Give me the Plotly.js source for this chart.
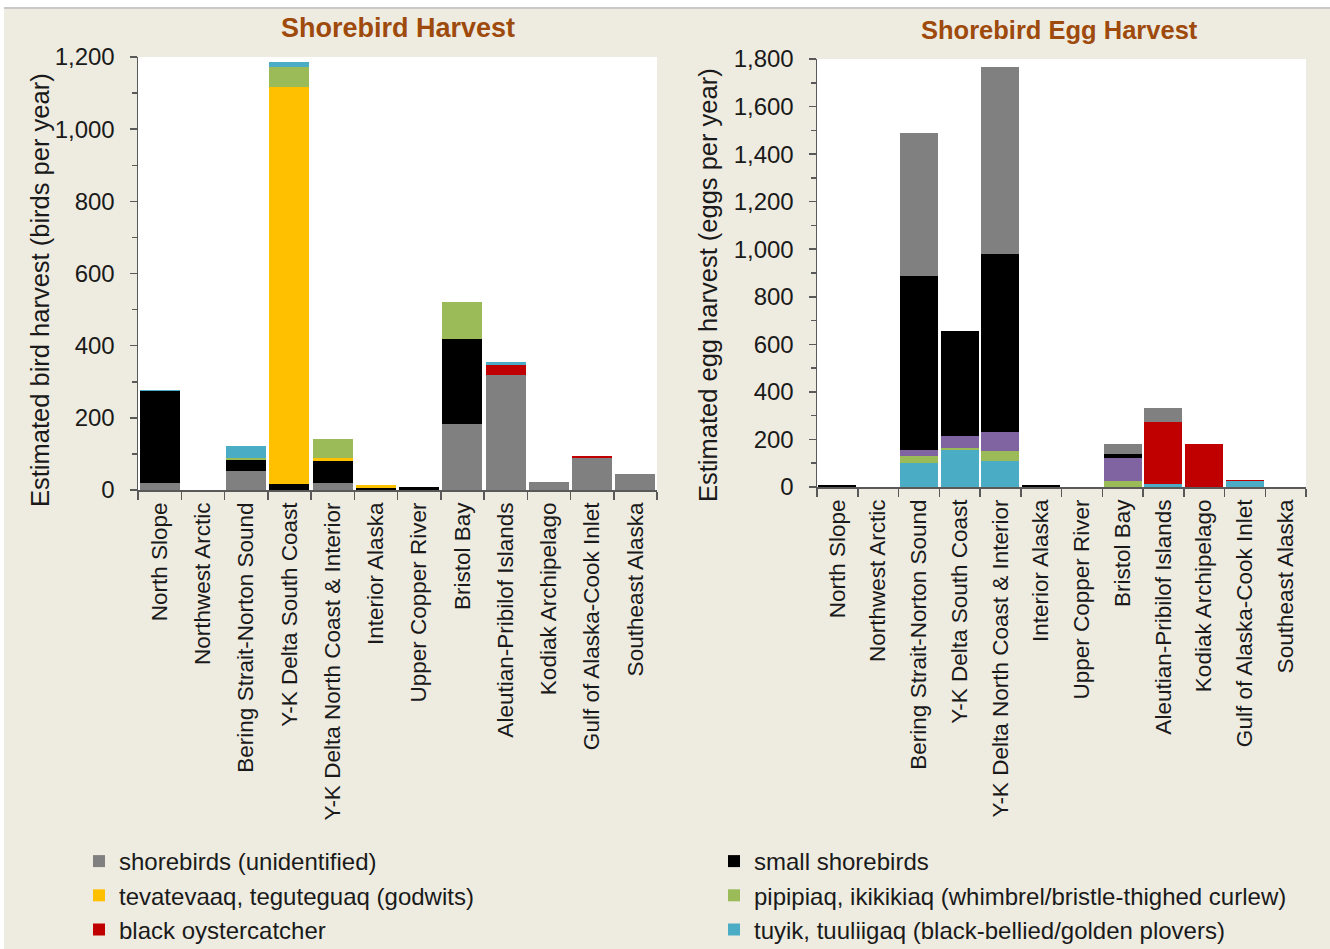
<!DOCTYPE html>
<html>
<head>
<meta charset="utf-8">
<script src="https://cdn.plot.ly/plotly-3.0.1.min.js"></script>
<style>
  html, body { margin: 0; padding: 0; background: #ffffff; }
  #chart { width: 1330px; height: 949px; }
</style>
</head>
<body>
<div id="chart"></div>
<script>
const categories = [
  "North Slope", "Northwest Arctic", "Bering Strait-Norton Sound", "Y-K Delta South Coast",
  "Y-K Delta North Coast & Interior", "Interior Alaska", "Upper Copper River", "Bristol Bay",
  "Aleutian-Pribilof Islands", "Kodiak Archipelago", "Gulf of Alaska-Cook Inlet", "Southeast Alaska"
];

// Shorebird Harvest (birds per year)
const birdUnidentified = [20, 0, 54, 0, 19, 0, 0, 183, 320, 23, 90, 44];
const birdSmall        = [253, 0, 28, 17, 60, 5, 7, 236, 0, 0, 0, 0];
const birdGodwits      = [0, 0, 2, 1099, 9, 9, 0, 0, 0, 0, 0, 0];
const birdCurlew       = [0, 0, 4, 56, 52, 0, 0, 102, 0, 0, 0, 0];
const birdOyster       = [0, 0, 0, 0, 0, 0, 0, 0, 27, 0, 4, 0];
const birdPlovers      = [3, 0, 35, 14, 0, 0, 0, 0, 7, 0, 0, 0];

// Shorebird Egg Harvest (eggs per year)
const eggPlovers       = [0, 0, 102, 156, 111, 0, 0, 0, 13, 0, 24, 0];
const eggCurlew        = [0, 0, 30, 8, 42, 0, 0, 24, 0, 0, 0, 0];
const eggOther         = [0, 0, 22, 51, 78, 0, 0, 99, 0, 0, 0, 0];
const eggOyster        = [0, 0, 0, 0, 0, 0, 0, 0, 259, 182, 4, 0];
const eggSmall         = [10, 0, 733, 439, 750, 10, 0, 14, 0, 0, 0, 0];
const eggUnidentified  = [0, 0, 602, 0, 785, 0, 0, 45, 60, 0, 0, 0];

const seriesNames = {
  unid: "shorebirds (unidentified)",
  small: "small shorebirds",
  godwit: "tevatevaaq, teguteguaq (godwits)",
  curlew: "pipipiaq, ikikikiaq (whimbrel/bristle-thighed curlew)",
  oyster: "black oystercatcher",
  plover: "tuyik, tuuliigaq (black-bellied/golden plovers)",
  other: "other (purple, not in legend)"
};

const colors = {
  unid: "#808080", small: "#000000", godwit: "#FFC000", curlew: "#9BBB59",
  oyster: "#C00000", plover: "#4BACC6", other: "#8064A2"
};

function bar(key, y, xa, ya, legend, show) {
  return {
    type: "bar", x: categories, y: y, name: seriesNames[key],
    xaxis: xa, yaxis: ya, legendgroup: key, showlegend: show,
    legend: legend,
    marker: { color: colors[key], line: { width: 0 } },
    hoverinfo: "x+y+name"
  };
}

const data = [
  bar("unid", birdUnidentified, "x", "y", "legend", true),
  bar("small", birdSmall, "x", "y", "legend2", true),
  bar("godwit", birdGodwits, "x", "y", "legend", true),
  bar("curlew", birdCurlew, "x", "y", "legend2", true),
  bar("oyster", birdOyster, "x", "y", "legend", true),
  bar("plover", birdPlovers, "x", "y", "legend2", true),

  bar("plover", eggPlovers, "x2", "y2", "legend2", false),
  bar("curlew", eggCurlew, "x2", "y2", "legend2", false),
  bar("other", eggOther, "x2", "y2", "legend", false),
  bar("oyster", eggOyster, "x2", "y2", "legend", false),
  bar("small", eggSmall, "x2", "y2", "legend2", false),
  bar("unid", eggUnidentified, "x2", "y2", "legend", false)
];

const W = 1330, H = 949;
const px = v => v / W;
const py = v => 1 - v / H;
const textColor = "#1a1a1a";
const font = "Liberation Sans, Arial, sans-serif";

const xCommon = {
  type: "category", showline: true, linecolor: "#595959", linewidth: 1.5,
  ticks: "outside", tickson: "boundaries", ticklen: 8, tickcolor: "#595959", tickwidth: 1.5,
  tickangle: -90, showgrid: false, zeroline: false, ticklabelstandoff: 2,
  tickfont: { family: font, size: 22.5, color: textColor }
};
const yCommon = {
  showline: true, linecolor: "#595959", linewidth: 1.5,
  ticks: "outside", ticklen: 7, tickcolor: "#595959", tickwidth: 1.5,
  showgrid: false, zeroline: false, tickformat: ",d", dtick: 200,
  ticklabelstandoff: 10,
  minor: { dtick: 100, ticks: "outside", ticklen: 5, tickcolor: "#595959", tickwidth: 1.5, showgrid: false },
  tickfont: { family: font, size: 24, color: textColor }
};

const layout = {
  width: W, height: H,
  margin: { l: 0, r: 0, t: 0, b: 0, autoexpand: false },
  paper_bgcolor: "#EEECE1",
  plot_bgcolor: "#FFFFFF",
  barmode: "stack",
  bargap: 0.07,
  font: { family: font, color: textColor },
  xaxis: Object.assign({}, xCommon, { domain: [px(138), px(657)], anchor: "y" }),
  yaxis: Object.assign({}, yCommon, { domain: [py(490), py(57)], range: [0, 1200], anchor: "x" }),
  xaxis2: Object.assign({}, xCommon, { domain: [px(817), px(1306)], anchor: "y2" }),
  yaxis2: Object.assign({}, yCommon, { domain: [py(487), py(59)], range: [0, 1800], anchor: "x2" }),
  legend: {
    x: px(79), y: py(839), xanchor: "left", yanchor: "top", orientation: "v",
    bgcolor: "rgba(0,0,0,0)", font: { family: font, size: 24, color: textColor },
    traceorder: "normal"
  },
  legend2: {
    x: px(714), y: py(839), xanchor: "left", yanchor: "top", orientation: "v",
    bgcolor: "rgba(0,0,0,0)", font: { family: font, size: 24, color: textColor },
    traceorder: "normal"
  },
  annotations: [
    { text: "<b>Shorebird Harvest</b>", xref: "paper", yref: "paper", x: px(398), y: py(28),
      showarrow: false, xanchor: "center", yanchor: "middle",
      font: { family: font, size: 27, color: "#9E4A0C" } },
    { text: "<b>Shorebird Egg Harvest</b>", xref: "paper", yref: "paper", x: px(1059), y: py(30),
      showarrow: false, xanchor: "center", yanchor: "middle",
      font: { family: font, size: 25.5, color: "#9E4A0C" } },
    { text: "Estimated bird harvest (birds per year)", xref: "paper", yref: "paper",
      x: px(40), y: py(290), textangle: -90, showarrow: false, xanchor: "center", yanchor: "middle",
      font: { family: font, size: 25.5, color: textColor } },
    { text: "Estimated egg harvest (eggs per year)", xref: "paper", yref: "paper",
      x: px(708), y: py(285), textangle: -90, showarrow: false, xanchor: "center", yanchor: "middle",
      font: { family: font, size: 25.5, color: textColor } }
  ],
  shapes: [
    { type: "rect", xref: "paper", yref: "paper", x0: 0, x1: 1, y0: py(7), y1: 1,
      fillcolor: "#FFFFFF", line: { width: 0 }, layer: "above" },
    { type: "line", xref: "paper", yref: "paper", x0: 0, x1: 1, y0: py(8), y1: py(8),
      line: { color: "#C8C8C8", width: 2 }, layer: "above" },
    { type: "rect", xref: "paper", yref: "paper", x0: 0, x1: px(4), y0: 0, y1: 1,
      fillcolor: "#FFFFFF", line: { width: 0 }, layer: "above" }
  ]
};

Plotly.newPlot("chart", data, layout, { displayModeBar: false, staticPlot: true });
</script>
</body>
</html>
